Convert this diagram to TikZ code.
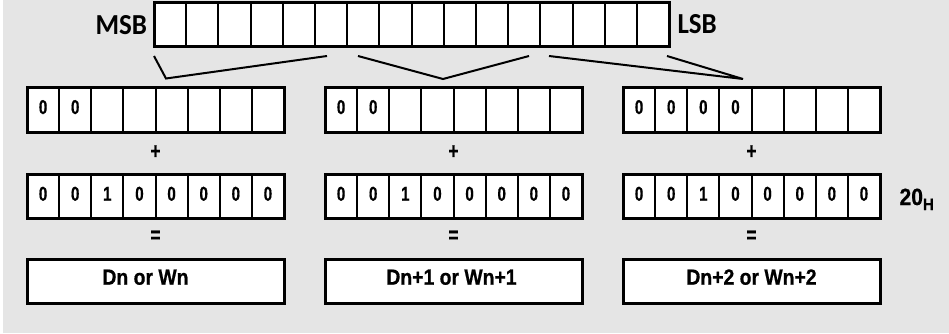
\documentclass[tikz,border=0pt]{standalone}
\usepackage{fontspec}
\setmainfont{Liberation Sans}
\newfontfamily\cellfnt[FakeStretch=0.76,FakeBold=0.6]{Liberation Sans}
\newfontfamily\boxfnt[FakeStretch=0.88,FakeBold=0.6]{Liberation Sans}
\newfontfamily\hexfnt[FakeStretch=0.9,FakeBold=0.6]{Liberation Sans}
\newfontfamily\msbfont[FakeStretch=0.93]{Carlito}
\definecolor{bggray}{HTML}{E5E5E5}
\begin{document}
\begin{tikzpicture}[x=1pt,y=-1pt,every node/.style={outer sep=0pt},
  cellfont/.style={font=\cellfnt\fontsize{20}{20}\selectfont\bfseries,inner sep=0pt,anchor=base},
  cell/.style={draw=black,line width=2pt,fill=white,minimum width=#1,minimum height=44pt,inner sep=0pt,anchor=north west},
  outer/.style={draw=black,line width=3pt},
  bigbox/.style={draw=black,line width=3pt,fill=white,minimum width=257pt,minimum height=44pt,inner sep=0pt,anchor=north west},
  bigtext/.style={font=\boxfnt\fontsize{22}{22}\selectfont\bfseries,inner sep=0pt,anchor=base},
  opsign/.style={font=\cellfnt\fontsize{23}{23}\selectfont\bfseries,inner sep=0pt},
  sidelabel/.style={font=\msbfont\fontsize{29}{29}\selectfont\bfseries,inner sep=0pt},
  bracket/.style={draw=black,line width=2pt,line join=miter}]
\useasboundingbox (0,0) rectangle (949,334);
\fill[bggray] (3,0) rectangle (949,332.5);
% top 16-bit register
\foreach \i in {0,...,15}{
  \node[cell=32.2pt,minimum height=43.8pt] (t\i) at ({154+32.2*\i},2.8) {};
}
\draw[outer] (t0.north west) rectangle (t15.south east);
\node[sidelabel,anchor=base east] (msb) at (147,34.3) {MSB};
\node[sidelabel,anchor=base west] (lsb) at (677.5,33.5) {LSB};
% three byte columns
\foreach \c/\x in {a/27,b/325,c/623}{
  \foreach \i in {0,...,7}{
    \node[cell=32.125pt] (\c1\i) at ({\x+32.125*\i},88) {};
    \node[cell=32.125pt] (\c2\i) at ({\x+32.125*\i},174) {};
  }
  \draw[outer] (\c10.north west) rectangle (\c17.south east);
  \draw[outer] (\c20.north west) rectangle (\c27.south east);
  \node[opsign] (\c plus) at ({\x+128.5},152) {+};
  \node[opsign] (\c eq) at ({\x+128.5},236.7) {=};
}
\foreach \c in {a,b,c}{
  \foreach \i/\v in {0/0,1/0,2/1,3/0,4/0,5/0,6/0,7/0}{
    \node[cellfont] at ([yshift=17.3pt]\c2\i.south) {\v};
  }
  \node[cellfont] at ([yshift=18pt]\c10.south) {0};
  \node[cellfont] at ([yshift=18pt]\c11.south) {0};
}
\node[cellfont] at ([yshift=18pt]c12.south) {0};
\node[cellfont] at ([yshift=18pt]c13.south) {0};
\node[bigbox] (ra) at (27,259) {};
\node[bigbox] (rb) at (325,259) {};
\node[bigbox] (rc) at (623,259) {};
\node[bigtext] at ([xshift=-10pt,yshift=18.3pt]ra.south) {Dn or Wn};
\node[bigtext] at ([xshift=-2pt,yshift=18.3pt]rb.south) {Dn+1 or Wn+1};
\node[bigtext] at ([yshift=18.3pt]rc.south) {Dn+2 or Wn+2};
\node[anchor=base west,inner sep=0pt,font=\hexfnt\fontsize{23.5}{23.5}\selectfont\bfseries] (hex) at (899.5,205) {20\raisebox{-5pt}{\fontsize{16.5}{16.5}\selectfont H}};
% brackets
\coordinate (b1s) at (154,56);
\coordinate (b1m) at (166,78.5);
\coordinate (b1e) at (327,56);
\coordinate (b2s) at (358,56);
\coordinate (b2m) at (443,79);
\coordinate (b2e) at (529,56);
\coordinate (b3s) at (549,56);
\coordinate (b3m) at (743,79);
\coordinate (b3e) at (667,56);
\draw[bracket] (b1s) -- (b1m) -- (b1e);
\draw[bracket] (b2s) -- (b2m) -- (b2e);
\draw[bracket] (b3s) -- (b3m) -- (b3e);
\end{tikzpicture}
\end{document}
